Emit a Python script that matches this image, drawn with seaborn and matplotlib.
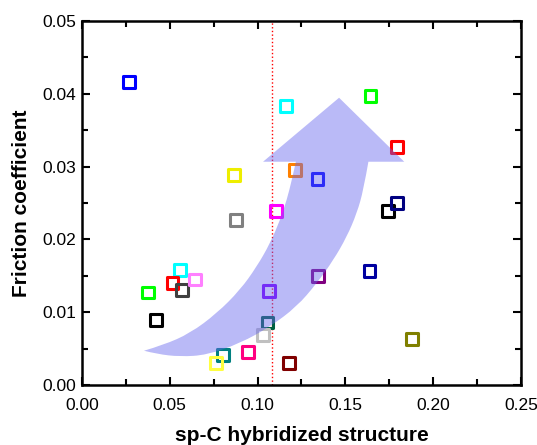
import numpy as np
import matplotlib
matplotlib.use("Agg")
import matplotlib.pyplot as plt
import seaborn as sns
from matplotlib.path import Path
from matplotlib.patches import PathPatch
from matplotlib.ticker import MultipleLocator, FormatStrFormatter

# === Data ===
sp_c = [0.0268, 0.0866, 0.0877, 0.1161, 0.1643, 0.1793, 0.1214, 0.1341, 0.1105,
        0.1742, 0.1795, 0.0558, 0.0515, 0.0568, 0.0644, 0.0374, 0.0420, 0.0805,
        0.0764, 0.0944, 0.1067, 0.1056, 0.1030, 0.1346, 0.1637, 0.1879, 0.1179]
friction = [0.0416, 0.0288, 0.0227, 0.0383, 0.0397, 0.0327, 0.0295, 0.0283, 0.0239,
            0.0239, 0.0250, 0.0158, 0.0140, 0.0130, 0.0145, 0.0127, 0.0089, 0.0041,
            0.0030, 0.0045, 0.0129, 0.0086, 0.0069, 0.0150, 0.0157, 0.0063, 0.0030]
colors = ["#0000FF", "#EEEE00", "#808080", "#00FFFF", "#00FF00", "#FF0000", "#FF8000",
          "#0000FF", "#FF00FF", "#000000", "#000080", "#00FFFF", "#FF0000", "#404040",
          "#FF80FF", "#00FF00", "#000000", "#008080", "#FFFF40", "#FF0080", "#8000FF",
          "#006040", "#C0C0C0", "#800080", "#0000A0", "#808000", "#800000"]

threshold = 0.108

# curved trend arrow outline (data coords): shaft edges from head base to tail tip
arrow_inner = [(0.1218, 0.03067), (0.1195, 0.02816), (0.1166, 0.02541), (0.1128, 0.02266),
               (0.1071, 0.01946), (0.0995, 0.01625), (0.0900, 0.01305), (0.0768, 0.00985),
               (0.0615, 0.00710), (0.0463, 0.00549), (0.0353, 0.00471)]
arrow_outer = [(0.0353, 0.00471), (0.0426, 0.00426), (0.0558, 0.00389), (0.0711, 0.00412),
               (0.0900, 0.00573), (0.1071, 0.00801), (0.1223, 0.01076), (0.1337, 0.01397),
               (0.1432, 0.01717), (0.1508, 0.02037), (0.1565, 0.02359), (0.1603, 0.02679),
               (0.1631, 0.03067)]
arrow_head = [(0.1835, 0.03067), (0.1464, 0.03946), (0.1031, 0.03067)]


def smooth_edge(pts):
    # quadratic bezier through midpoints, vertices act as control points
    verts = []
    codes = []
    for i in range(1, len(pts) - 1):
        mid = ((pts[i][0] + pts[i + 1][0]) / 2, (pts[i][1] + pts[i + 1][1]) / 2)
        if i == len(pts) - 2:
            mid = pts[i + 1]
        verts += [pts[i], mid]
        codes += [Path.CURVE3, Path.CURVE3]
    return verts, codes


v1, c1 = smooth_edge(arrow_inner)
v2, c2 = smooth_edge(arrow_outer)
verts = [arrow_inner[0]] + v1 + v2 + arrow_head + [arrow_inner[0]]
codes = ([Path.MOVETO] + c1 + c2 + [Path.LINETO] * len(arrow_head)
         + [Path.CLOSEPOLY])

plt.rcParams["font.family"] = ["Liberation Sans", "DejaVu Sans"]

fig = plt.figure(figsize=(5.37, 4.45), dpi=100)
ax = fig.add_axes([0.1527, 0.1348, 0.8175, 0.818])

sns.scatterplot(x=sp_c, y=friction, marker="s", s=72, legend=False, ax=ax, zorder=3)
pts = ax.collections[0]
pts.set_facecolor("none")
pts.set_edgecolor(colors)
pts.set_linewidth(2.2)

ax.axvline(threshold, color="red", linestyle=":", linewidth=1.0, zorder=2)

ax.add_patch(PathPatch(Path(verts, codes), facecolor="#6666EE", edgecolor="none",
                       alpha=0.45, zorder=4))

ax.set_xlim(0, 0.25)
ax.set_ylim(0, 0.05)
ax.xaxis.set_major_locator(MultipleLocator(0.05))
ax.xaxis.set_minor_locator(MultipleLocator(0.025))
ax.yaxis.set_major_locator(MultipleLocator(0.01))
ax.yaxis.set_minor_locator(MultipleLocator(0.005))
ax.xaxis.set_major_formatter(FormatStrFormatter("%.2f"))
ax.yaxis.set_major_formatter(FormatStrFormatter("%.2f"))
ax.tick_params(which="both", direction="in", top=True, right=True, width=1.5,
               labelsize=12.5)
ax.tick_params(axis="x", which="major", pad=9)
ax.tick_params(axis="y", which="major", pad=4)
ax.tick_params(which="major", length=6)
ax.tick_params(which="minor", length=4)
for sp in ax.spines.values():
    sp.set_linewidth(1.8)

ax.set_xlabel("sp-C hybridized structure", fontsize=15, fontweight="bold", labelpad=10)
ax.set_ylabel("Friction coefficient", fontsize=15, fontweight="bold", labelpad=8)

fig.savefig("out.png", dpi=100)
